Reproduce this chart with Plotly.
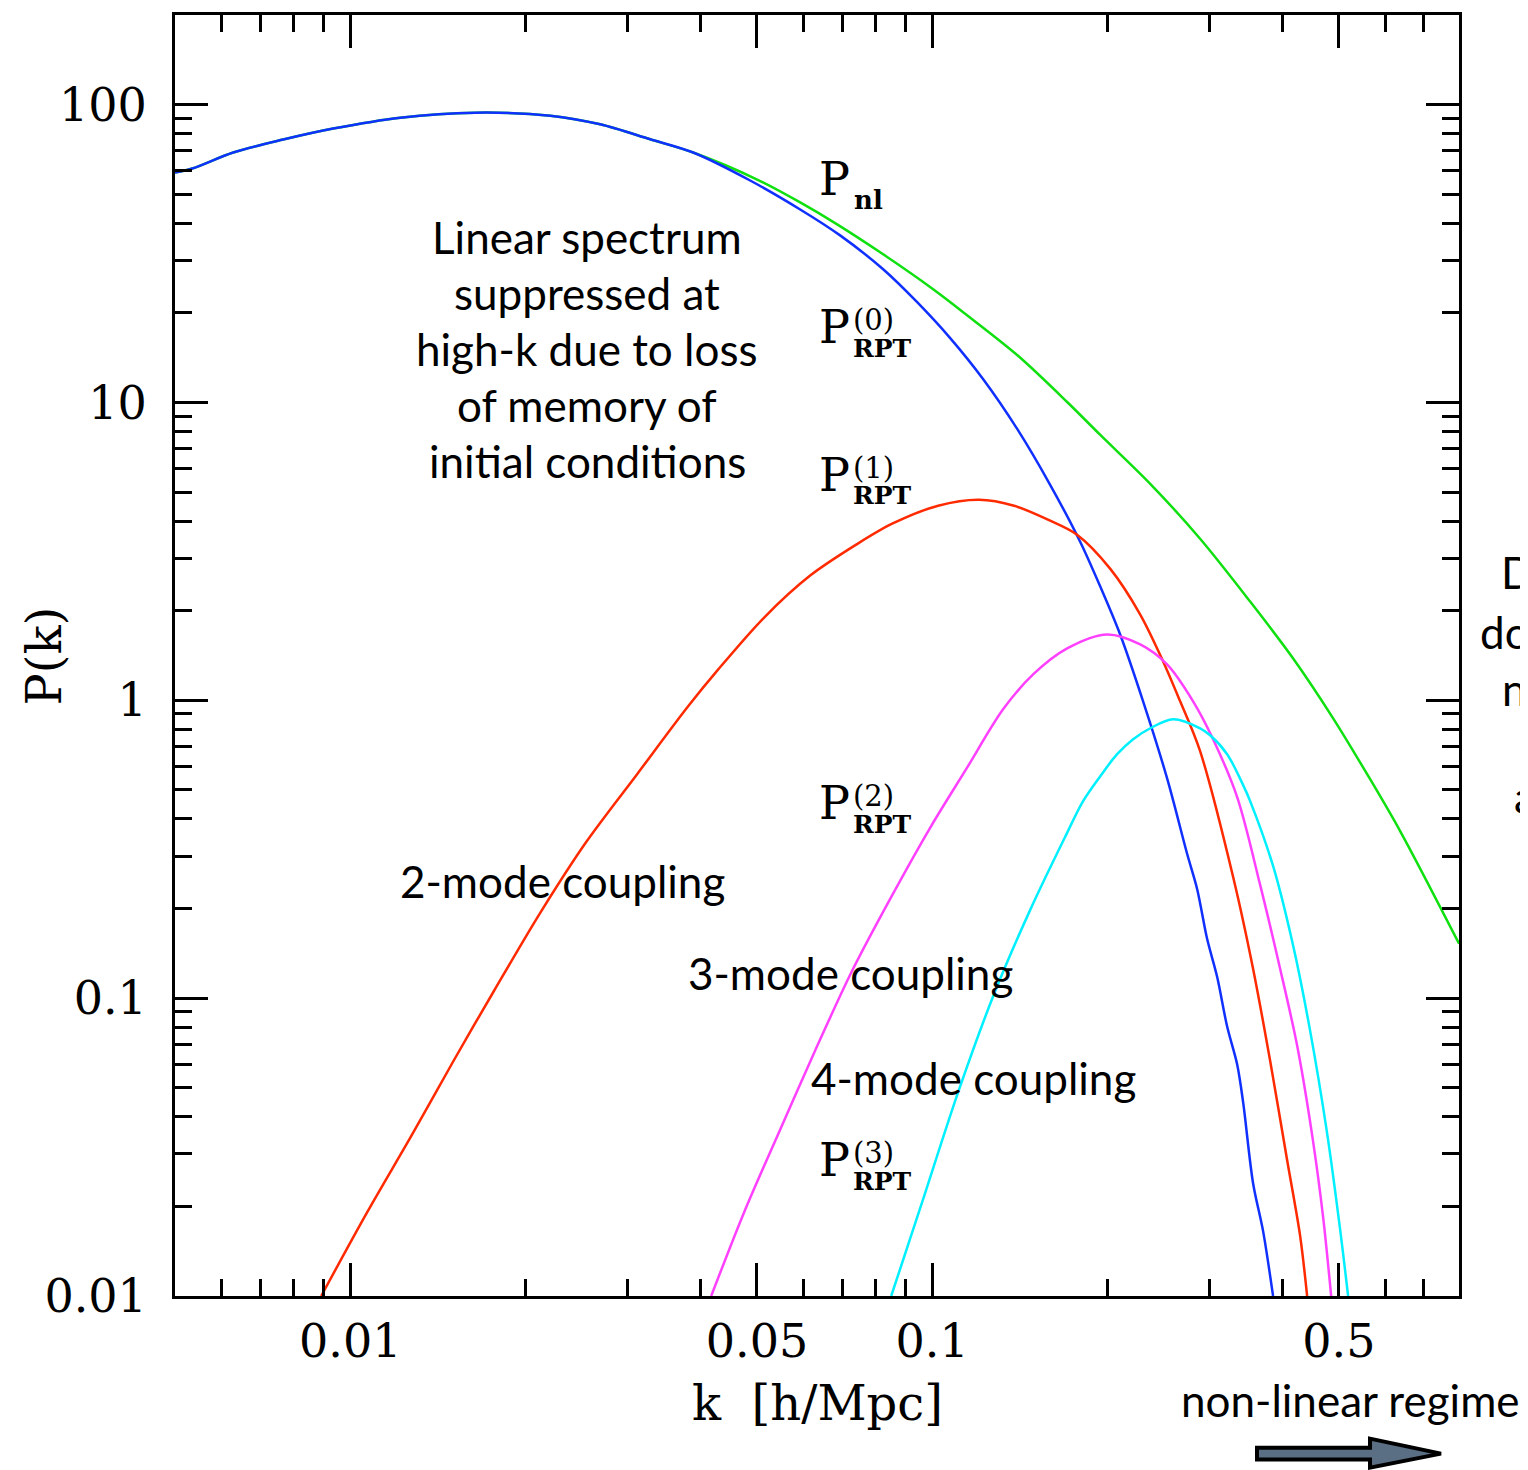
import plotly.graph_objects as go

# ---------------- data ----------------
k_nl = [0.005, 0.005353, 0.006295, 0.007671, 0.00935, 0.01219, 0.0164, 0.02207, 0.02689, 0.03278,
        0.03884, 0.05004, 0.05933, 0.06867, 0.08238, 0.1004, 0.1148, 0.14, 0.1706, 0.1945, 0.237,
        0.2887, 0.3519, 0.4172, 0.4887, 0.559, 0.637, 0.8044]
p_nl = [59.18, 61.04, 69.07, 76.33, 83.11, 90.45, 94.01, 91.86, 85.9, 76.52,
        69.07, 56.06, 46.96, 39.63, 31.44, 24.0, 19.64, 14.43, 10.04, 7.782, 5.333,
        3.488, 2.146, 1.382, 0.8703, 0.5651, 0.364, 0.1523]

k_rpt0 = [0.005, 0.005353, 0.006295, 0.007671, 0.00935, 0.01219, 0.0164, 0.02207, 0.02689, 0.03278,
          0.03884, 0.04867, 0.05933, 0.06948, 0.08238, 0.09424, 0.1074, 0.1223, 0.14, 0.1595,
          0.1796, 0.1945, 0.2104, 0.2304, 0.2533, 0.2743, 0.2853, 0.2968, 0.3088, 0.3213,
          0.3343, 0.3423, 0.356, 0.3704, 0.3853]
p_rpt0 = [59.18, 61.04, 69.07, 76.33, 83.11, 90.45, 94.01, 91.86, 85.9, 76.52,
          69.07, 55.64, 44.48, 36.4, 28.01, 21.71, 16.45, 11.99, 8.15, 5.291,
          3.409, 2.409, 1.664, 0.9922, 0.5479, 0.3048, 0.2327, 0.1582, 0.118, 0.08028,
          0.05987, 0.04467, 0.02391, 0.01651, 0.01]

k_rpt1 = [0.008917, 0.01065, 0.01278, 0.01503, 0.01767, 0.02121, 0.02544, 0.03112, 0.03808, 0.0429,
          0.05144, 0.06171, 0.07403, 0.08538, 0.1024, 0.1204, 0.1383, 0.1595, 0.1774, 0.2022,
          0.2278, 0.2494, 0.2668, 0.2887, 0.329, 0.356, 0.3808, 0.4074, 0.4289, 0.4409]
p_rpt1 = [0.01, 0.01883, 0.03488, 0.06128, 0.1059, 0.1934, 0.3344, 0.5651, 0.9548, 1.27,
          1.897, 2.623, 3.332, 3.917, 4.501, 4.714, 4.501, 4.009, 3.598, 2.768,
          1.941, 1.351, 0.9922, 0.6749, 0.2553, 0.1256, 0.06174, 0.02855, 0.01589, 0.01]

k_rpt2 = [0.04172, 0.04753, 0.05482, 0.06295, 0.07258, 0.0847, 0.09961, 0.1144, 0.1324, 0.1491,
          0.1706, 0.1998, 0.2278, 0.2533, 0.2808, 0.3039, 0.3343, 0.3661, 0.3962, 0.4238,
          0.4514, 0.4697, 0.4849]
p_rpt2 = [0.01, 0.01912, 0.03626, 0.06671, 0.1217, 0.2154, 0.3783, 0.5871, 0.9328, 1.222,
          1.494, 1.664, 1.54, 1.32, 0.9922, 0.7403, 0.4732, 0.24, 0.1256, 0.06932,
          0.03306, 0.01839, 0.01]

k_rpt3 = [0.08505, 0.09612, 0.1108, 0.1278, 0.1474, 0.1692, 0.1817, 0.1945, 0.2079, 0.2215,
          0.237, 0.2595, 0.2887, 0.3004, 0.3213, 0.3423, 0.3519, 0.3853, 0.4172, 0.4461,
          0.4772, 0.5023, 0.5185]
p_rpt3 = [0.01, 0.02065, 0.04826, 0.1035, 0.1979, 0.3475, 0.4587, 0.5563, 0.6595, 0.7403,
          0.8058, 0.8637, 0.8058, 0.7634, 0.6595, 0.5191, 0.4587, 0.2779, 0.1499, 0.07782,
          0.03517, 0.01677, 0.01]

x_major = [0.01, 0.05, 0.1, 0.5]
x_major_text = ["0.01", "0.05", "0.1", "0.5"]
x_minor = [0.006, 0.007, 0.008, 0.009, 0.02, 0.03, 0.04, 0.06, 0.07, 0.08, 0.09,
           0.2, 0.3, 0.4, 0.6, 0.7]
y_major = [0.01, 0.1, 1, 10, 100]
y_major_text = ["0.01", "0.1", "1", "10", "100"]
y_minor = [m * d for d in (0.01, 0.1, 1, 10) for m in range(2, 10)]

# ---------------- geometry (page pixels; the page body has an 8px margin) ----------------
BODY = 8
PAGE_W, PAGE_H = 1528, 1470
W, H = PAGE_W - BODY, PAGE_H - BODY
L, R, T, B = 175, 1459, 12, 1296   # plot area in page pixels


def px(x):
    return (x - L) / (R - L)


def py(y):
    return (B - y) / (B - T)


SERIF = "DejaVu Serif"
SANS = "Lato"

fig = go.Figure()
series = [
    (k_nl, p_nl, "#10e010"),
    (k_rpt0, p_rpt0, "#1030ff"),
    (k_rpt1, p_rpt1, "#ff2a00"),
    (k_rpt2, p_rpt2, "#ff40ff"),
    (k_rpt3, p_rpt3, "#00f0ff"),
]
for kx, pv, col in series:
    fig.add_trace(go.Scatter(x=kx, y=pv, mode="lines",
                             line=dict(color=col, width=2.5, shape="spline", smoothing=0.9),
                             showlegend=False, hoverinfo="skip"))

axis_common = dict(
    type="log", showgrid=False, zeroline=False,
    showline=True, linewidth=3, linecolor="black", mirror="allticks",
    ticks="inside", ticklen=33, tickwidth=2.5, tickcolor="black",
    tickfont=dict(family=SERIF, size=46, color="black"),
)
fig.update_xaxes(**axis_common, range=[-2.30103, -0.0947],
                 tickmode="array", tickvals=x_major, ticktext=x_major_text,
                 ticklabelstandoff=3,
                 minor=dict(tickmode="array", tickvals=x_minor, ticks="inside",
                            ticklen=17, tickwidth=2.5, tickcolor="black"))
fig.update_yaxes(**axis_common, range=[-2, 2.30103],
                 tickmode="array", tickvals=y_major, ticktext=y_major_text,
                 ticklabelstandoff=16,
                 minor=dict(tickmode="array", tickvals=y_minor, ticks="inside",
                            ticklen=17, tickwidth=2.5, tickcolor="black"))

ann = []


def text(x, y, s, size, family, xanchor="center", yanchor="middle", angle=0):
    ann.append(dict(x=px(x), y=py(y), xref="paper", yref="paper", text=s, showarrow=False,
                    xanchor=xanchor, yanchor=yanchor, textangle=angle,
                    font=dict(family=family, size=size, color="black")))


# axis titles
text(817, 1403, "k&nbsp; [h/Mpc]", 48, SERIF)
text(44, 655, "P(k)", 48, SERIF, angle=-90)

# curve labels
text(834, 176, "P", 46, SERIF)
text(852, 197, "<b>nl</b>", 26, SERIF, xanchor="left")
for yc, sup in [(325, "(0)"), (473, "(1)"), (802, "(2)"), (1160, "(3)")]:
    text(834, yc, "P", 46, SERIF)
    text(851, yc - 7, sup, 29, SERIF, xanchor="left")
    text(851, yc + 21, "<b>RPT</b>", 25, SERIF, xanchor="left")

# descriptive text
for i, line in enumerate(["Linear spectrum", "suppressed at", "high-k due to loss",
                          "of memory of", "initial conditions"]):
    text(587, 235 + 56 * i, line, 44, SANS)
text(562, 880, "2-mode coupling", 44, SANS)
text(850, 972, "3-mode coupling", 44, SANS)
text(973, 1077, "4-mode coupling", 44, SANS)
text(1350, 1400, "non-linear regime", 44, SANS)

# partially visible text at the right edge
for xl, yc, s in [(1499, 570, "D"), (1478, 630, "do"), (1500, 688, "na"),
                  (1521, 740, "s"), (1512, 795, "a")]:
    text(xl, yc, s, 44, SANS, xanchor="left")

fig.update_layout(annotations=ann)

# arrow below the axis
arrow_pts = [(1257, 1448), (1370, 1448), (1370, 1439), (1441, 1454), (1370, 1468),
             (1370, 1460), (1257, 1460)]
path = "M " + " L ".join(f"{px(a):.5f},{py(b):.5f}" for a, b in arrow_pts) + " Z"
fig.add_shape(type="path", path=path, xref="paper", yref="paper",
              fillcolor="#5b6f84", line=dict(color="black", width=4), layer="above")

fig.update_layout(
    width=W, height=H, autosize=False,
    margin=dict(l=L - BODY, r=W - (R - BODY), t=T - BODY, b=H - (B - BODY), pad=0),
    paper_bgcolor="white", plot_bgcolor="white",
)

fig.write_html("out.html")
